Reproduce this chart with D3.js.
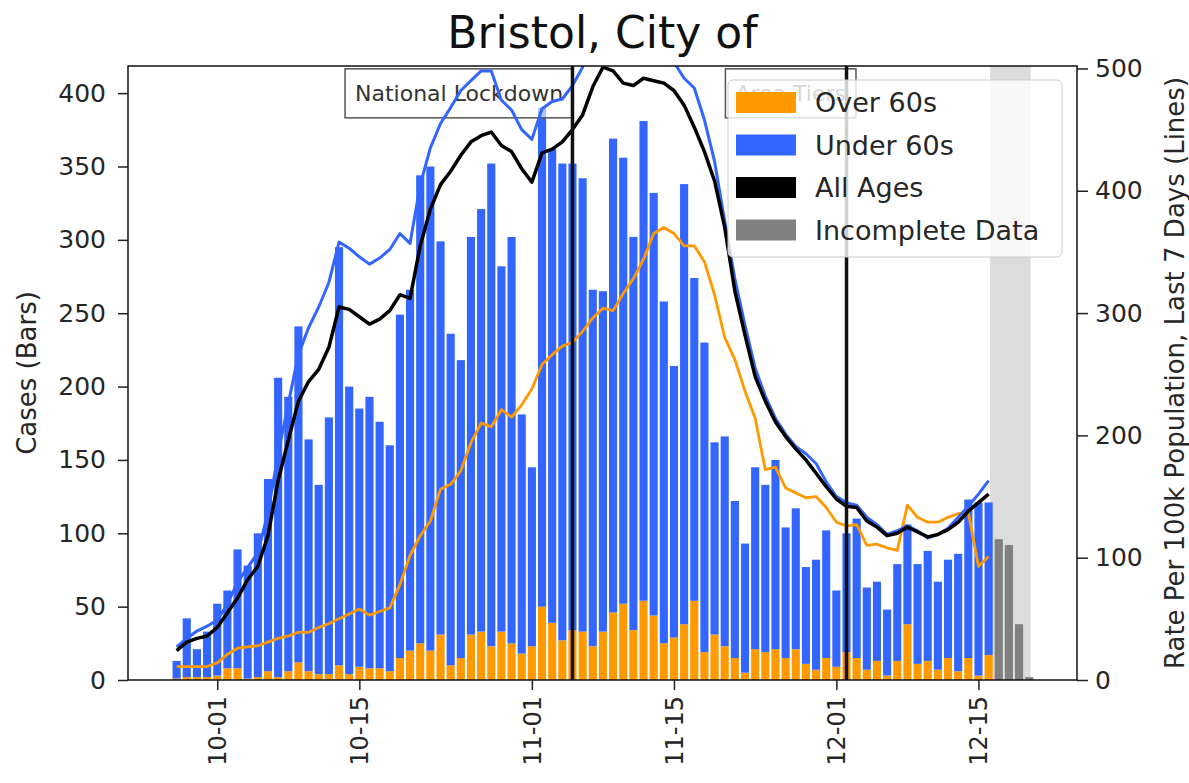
<!DOCTYPE html>
<html>
<head>
<meta charset="utf-8">
<script src="https://cdn.jsdelivr.net/npm/d3@7"></script>
<style>
  body { margin: 0; background: #fff; }
  text { font-family: "DejaVu Sans", sans-serif; fill: #262626; }
</style>
</head>
<body>
<svg width="1189" height="783"></svg>
<script>
// daily cases, first bar is 27 Sep, last complete day is 16 Dec
var firstDay = "2020-09-27";
var over60 = [1,2,2,2,3,8,8,1,2,6, 2,6,12,6,4,4,10,4,9,8,
  8,6,15,20,25,20,31,10,15,31, 33,23,33,25,18,23,50,39,27,34,
  33,23,33,46,52,34,54,44,25,29, 38,54,19,31,23,15,5,21,19,21,
  15,21,11,7,15,9,19,15,7,13, 3,13,38,11,13,7,15,6,15,3, 17];
var under60 = [12,40,19,31,49,53,81,77,98,131, 204,187,229,158,129,175,285,196,176,185,
  168,154,234,246,319,330,268,226,203,271, 288,329,249,277,163,122,340,323,325,318,
  309,243,232,323,304,268,327,288,233,185, 300,220,211,131,143,107,88,124,114,129,
  89,96,66,75,87,52,81,95,56,54, 45,66,68,68,75,60,67,80,108,118, 104];
// 17 Dec - 20 Dec, not complete yet
var incomplete = [96, 92, 38, 2];

// rate per 100k, last 7 days
var rateAll = [24,31,34,36,43,55,67,82,93,118, 163,196,228,244,254,272,305,303,297,291,
  295,302,315,312,355,385,405,416,429,440, 445,448,437,432,418,407,431,434,440,450,
  462,485,501,498,488,486,492,490,488,482, 470,452,432,408,370,318,282,248,228,211,
  199,189,180,169,158,148,142,141,130,125, 118,120,125,121,117,119,123,129,138,145, 152];
var rateUnder60 = [27,34,40,44,49,62,80,92,104,137, 185,226,266,288,305,325,358,353,346,340,
  345,352,365,357,405,435,455,468,482,490, 498,498,474,466,450,442,467,473,475,486,
  501,525,545,548,538,535,542,536,522,505, 492,484,458,424,375,328,290,255,232,214,
  201,191,185,177,162,150,145,143,133,127, 119,122,126,122,116,119,124,133,142,152, 163];
var rateOver60 = [11,11,11,11,14,21,26,27,28,31, 34,36,39,39,43,46,50,54,58,53,
  56,59,78,102,118,130,156,160,171,194, 210,207,221,215,225,238,258,266,273,276,
  285,296,304,302,316,328,344,365,370,365, 355,355,342,315,280,262,236,214,172,174,
  157,153,149,150,141,129,126,127,110,111, 108,106,143,133,129,129,133,136,137,93, 101];

var caseTicks = [0, 50, 100, 150, 200, 250, 300, 350, 400];
var rateTicks = [0, 100, 200, 300, 400, 500];
var dateTicks = ["2020-10-01", "2020-10-15", "2020-11-01", "2020-11-15", "2020-12-01", "2020-12-15"];
var xDomain = ["2020-09-22T05:00", "2020-12-24T17:00"];
var incompleteSpan = ["2020-12-16T03:30", "2020-12-20T03:30"];
var events = [
  { date: "2020-11-05", label: "National Lockdown", at: "2020-10-24T20:00" },
  { date: "2020-12-02", label: "Area Tiers", at: "2020-11-26T12:00" }
];

var orange = "#ff9900", blue = "#3366ff", grey = "#808080";

function parseDay(s) {
  return new Date(s + (s.length == 10 ? "T00:00Z" : "Z"));
}

var svg = d3.select("svg");
var pLeft = 128, pRight = 1077, pTop = 66, pBottom = 680;

var start = parseDay(firstDay);
var x = d3.scaleUtc().domain(xDomain.map(parseDay)).range([pLeft, pRight]);
var yCases = d3.scaleLinear().domain([0, 418.5]).range([pBottom, pTop]);
var yRate = d3.scaleLinear().domain([0, 502]).range([pBottom, pTop]);
var dayW = x(d3.utcDay.offset(start, 1)) - x(start);
var barW = dayW * 0.8;

svg.append("clipPath").attr("id", "plot")
  .append("rect").attr("x", pLeft).attr("y", pTop)
  .attr("width", pRight - pLeft).attr("height", pBottom - pTop);

// incomplete data shading
svg.append("rect")
  .attr("x", x(parseDay(incompleteSpan[0])))
  .attr("y", pTop)
  .attr("width", x(parseDay(incompleteSpan[1])) - x(parseDay(incompleteSpan[0])))
  .attr("height", pBottom - pTop)
  .attr("fill", "#dcdcdc");

var rows = over60.map(function(v, i) {
  return { date: d3.utcDay.offset(start, i), over: v, under: under60[i] };
});
var series = d3.stack().keys(["over", "under"])(rows);

svg.append("g")
  .selectAll("g")
  .data(series)
  .enter()
  .append("g")
  .attr("fill", function(d) { return d.key == "over" ? orange : blue; })
  .selectAll("rect")
  .data(function(d) { return d; })
  .enter()
  .append("rect")
  .attr("x", function(d) { return x(d.data.date) - barW / 2; })
  .attr("y", function(d) { return yCases(d[1]); })
  .attr("width", barW)
  .attr("height", function(d) { return yCases(d[0]) - yCases(d[1]); });

svg.append("g")
  .selectAll("rect")
  .data(incomplete)
  .enter()
  .append("rect")
  .attr("x", function(d, i) { return x(d3.utcDay.offset(start, rows.length + i)) - barW / 2; })
  .attr("y", function(d) { return yCases(d); })
  .attr("width", barW)
  .attr("height", function(d) { return pBottom - yCases(d); })
  .attr("fill", grey);

// annotation boxes
events.forEach(function(e) {
  var g = svg.append("g");
  var t = g.append("text")
    .attr("x", x(parseDay(e.at)))
    .attr("y", yCases(400))
    .attr("dy", "0.35em")
    .attr("text-anchor", "middle")
    .style("font-size", "22px")
    .style("fill", "#333")
    .text(e.label);
  var b = t.node().getBBox();
  g.insert("rect", "text")
    .attr("x", b.x - 10).attr("y", b.y - 12)
    .attr("width", b.width + 20).attr("height", b.height + 24)
    .attr("fill", "white").attr("fill-opacity", 0.6)
    .attr("stroke", "#555").attr("stroke-width", 1.5);
});

// rate lines
var line = d3.line()
  .x(function(d, i) { return x(d3.utcDay.offset(start, i)); })
  .y(function(d) { return yRate(d); });

var lines = svg.append("g").attr("clip-path", "url(#plot)");
[[rateOver60, orange, 2.8], [rateUnder60, blue, 3], [rateAll, "#000", 3.5]].forEach(function(s) {
  lines.append("path")
    .attr("d", line(s[0]))
    .attr("fill", "none")
    .attr("stroke", s[1])
    .attr("stroke-width", s[2])
    .attr("stroke-linejoin", "round");
});

// event lines
svg.append("g")
  .selectAll("line")
  .data(events)
  .enter()
  .append("line")
  .attr("x1", function(d) { return x(parseDay(d.date)); })
  .attr("x2", function(d) { return x(parseDay(d.date)); })
  .attr("y1", pTop)
  .attr("y2", pBottom)
  .attr("stroke", "#111")
  .attr("stroke-width", 3.5);

// axes
function styleAxis(g) {
  g.attr("font-family", null).attr("font-size", null);
  g.select(".domain").remove();
  g.selectAll("line").attr("stroke", "#222").attr("stroke-width", 1.5);
  g.selectAll("text").style("font-size", "25px");
}

svg.append("g")
  .attr("transform", "translate(" + pLeft + ",0)")
  .call(d3.axisLeft(yCases).tickValues(caseTicks).tickSize(10).tickPadding(12))
  .call(styleAxis);

svg.append("g")
  .attr("transform", "translate(" + pRight + ",0)")
  .call(d3.axisRight(yRate).tickValues(rateTicks).tickSize(11).tickPadding(7))
  .call(styleAxis);

svg.append("g")
  .attr("transform", "translate(0," + pBottom + ")")
  .call(d3.axisBottom(x).tickValues(dateTicks.map(parseDay)).tickFormat(d3.utcFormat("%m-%d")).tickSize(10))
  .call(styleAxis)
  .selectAll("text")
  .style("font-size", "24px")
  .attr("transform", "rotate(-90)")
  .attr("text-anchor", "end")
  .attr("x", -16)
  .attr("y", 0)
  .attr("dy", "0.35em");

svg.append("rect")
  .attr("x", pLeft).attr("y", pTop)
  .attr("width", pRight - pLeft).attr("height", pBottom - pTop)
  .attr("fill", "none").attr("stroke", "#111").attr("stroke-width", 1.5);

// labels
svg.append("text")
  .attr("transform", "translate(27," + (pTop + pBottom) / 2 + ") rotate(-90)")
  .attr("text-anchor", "middle")
  .attr("dy", "0.35em")
  .style("font-size", "26px")
  .text("Cases (Bars)");

svg.append("text")
  .attr("transform", "translate(1175," + (pTop + pBottom) / 2 + ") rotate(-90)")
  .attr("text-anchor", "middle")
  .attr("dy", "0.35em")
  .style("font-size", "26px")
  .text("Rate Per 100k Population, Last 7 Days (Lines)");

svg.append("text")
  .attr("x", (pLeft + pRight) / 2)
  .attr("y", 48)
  .attr("text-anchor", "middle")
  .style("font-size", "44px")
  .style("fill", "#111")
  .text("Bristol, City of");

// legend
var legendItems = [
  { label: "Over 60s", color: orange },
  { label: "Under 60s", color: blue },
  { label: "All Ages", color: "#000" },
  { label: "Incomplete Data", color: grey }
];
var legend = svg.append("g").attr("transform", "translate(" + (pRight - 349) + "," + (pTop + 14) + ")");
legend.append("rect")
  .attr("width", 334).attr("height", 177).attr("rx", 5)
  .attr("fill", "white").attr("fill-opacity", 0.8)
  .attr("stroke", "#ccc").attr("stroke-width", 1);
var item = legend.selectAll("g.item")
  .data(legendItems)
  .enter()
  .append("g")
  .attr("transform", function(d, i) { return "translate(0," + (23 + i * 42.5) + ")"; });
item.append("rect")
  .attr("x", 8).attr("y", -11).attr("width", 60).attr("height", 21)
  .attr("fill", function(d) { return d.color; });
item.append("text")
  .attr("x", 87).attr("dy", "0.35em")
  .style("font-size", "27px")
  .text(function(d) { return d.label; });
</script>
</body>
</html>
